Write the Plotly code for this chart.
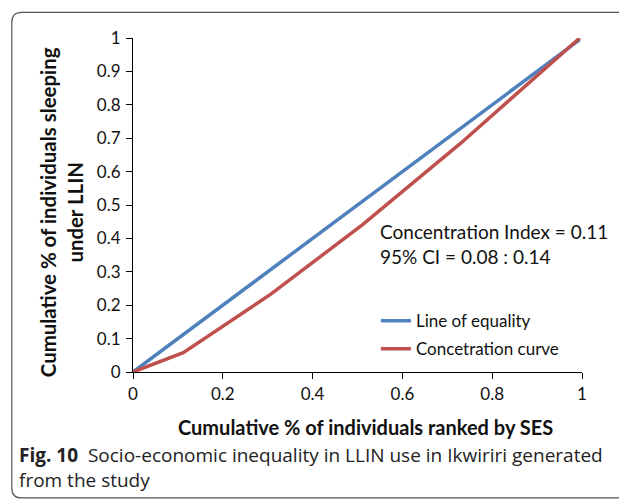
import plotly.graph_objects as go

# データ
equality_x = [0, 0.995]
equality_y = [0, 0.995]
curve_x = [0, 0.112, 0.307, 0.51, 0.73, 0.995]
curve_y = [0, 0.058, 0.233, 0.44, 0.685, 1.0]
y_ticks = [0, 0.1, 0.2, 0.3, 0.4, 0.5, 0.6, 0.7, 0.8, 0.9, 1]
x_ticks = [0, 0.2, 0.4, 0.6, 0.8, 1]

FONT = "Lato"
BLUE = "#4f81bd"
RED = "#c0504d"

fig = go.Figure()
fig.add_trace(go.Scatter(x=equality_x, y=equality_y, mode="lines", name="Line of equality",
                         legendgroup="a", line=dict(color=BLUE, width=3.5)))
fig.add_trace(go.Scatter(x=curve_x, y=curve_y, mode="lines", name="Concetration curve",
                         legendgroup="b", line=dict(color=RED, width=3.5)))

# 角丸の枠 (paper座標)
L, R, T, B = -0.270, 1.16, 1.0767, -0.377
rx, ry = 0.0223, 0.03
frame = (f"M {L+rx},{T} L {R},{T} M {L+rx},{T} Q {L},{T} {L},{T-ry} L {L},{B+ry} "
         f"Q {L},{B} {L+rx},{B} L {R},{B}")
fig.add_shape(type="path", path=frame, xref="paper", yref="paper",
              line=dict(color="#555555", width=1.2), layer="below")

fig.add_annotation(x=0.5457, y=0.384, xref="paper", yref="paper", xanchor="left", yanchor="middle",
                   text="Concentration Index = 0.11<br>95% CI = 0.08 : 0.14", align="left",
                   showarrow=False, font=dict(family=FONT, size=19, color="#111111"))
fig.add_annotation(x=-0.160, y=0.479, xref="paper", yref="paper", xanchor="center", yanchor="middle",
                   textangle=-90, text="<b>Cumulative % of individuals sleeping<br>under LLIN</b>",
                   showarrow=False, font=dict(family=FONT, size=20.4, color="#111111"))
fig.add_annotation(x=0.517, y=-0.165, xref="paper", yref="paper", xanchor="center", yanchor="middle",
                   text="<b>Cumulative % of individuals ranked by SES</b>", borderpad=0,
                   showarrow=False, font=dict(family=FONT, size=20, color="#111111"))
fig.add_annotation(x=-0.256, y=-0.207, xref="paper", yref="paper", xanchor="left", yanchor="top",
                   text="<b>Fig. 10</b>  Socio-economic inequality in LLIN use in Ikwiriri generated<br>from the study",
                   align="left", showarrow=False, borderpad=0,
                   font=dict(family="Open Sans", size=19, color="#222222"))

fig.update_layout(
    width=627, height=501,
    margin=dict(l=125, r=53, t=30, b=137),
    plot_bgcolor="white", paper_bgcolor="white",
    font=dict(family=FONT, size=17, color="#111111"),
    showlegend=True,
    legend=dict(x=0.541, y=0.206, xanchor="left", yanchor="top", bgcolor="rgba(0,0,0,0)",
                font=dict(family=FONT, size=17), tracegroupgap=3),
    xaxis=dict(range=[0, 1], tickvals=x_ticks, ticktext=[f"{v:g}" for v in x_ticks],
               showgrid=False, zeroline=False, showline=True, linecolor="black", linewidth=1.2,
               ticks="outside", ticklen=6, tickcolor="black"),
    yaxis=dict(range=[0, 1], tickvals=y_ticks, ticktext=[f"{v:g}" for v in y_ticks],
               showgrid=False, zeroline=False, showline=True, linecolor="black", linewidth=1.2,
               ticks="outside", ticklen=6, tickcolor="black", ticklabelstandoff=2),
)

fig.write_html("out.html")
